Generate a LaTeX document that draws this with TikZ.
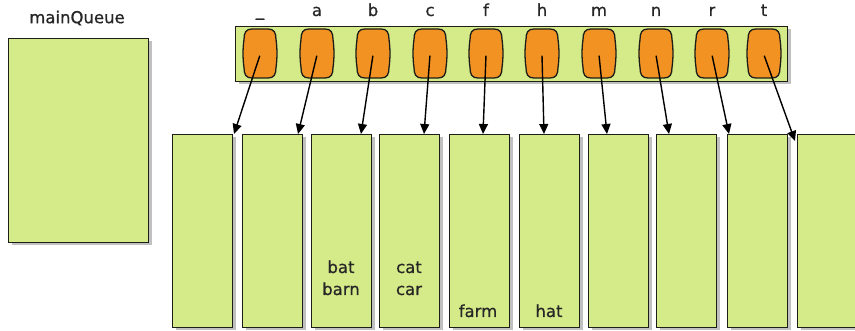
\documentclass[tikz,border=0pt]{standalone}
\usepackage{fontspec}
\setmainfont{DejaVu Sans}[FakeBold=0.6]
\usetikzlibrary{arrows.meta,shadows}
\definecolor{boxgreen}{RGB}{213,234,136}
\definecolor{pillorange}{RGB}{242,146,35}
\definecolor{edge}{RGB}{30,30,25}
\begin{document}
\begin{tikzpicture}[x=1pt,y=-1pt,font=\fontsize{16.5}{22}\selectfont,
  box/.style={draw=edge,line width=1.4pt,fill=boxgreen,anchor=north west,inner sep=0pt,
    drop shadow={shadow xshift=3pt,shadow yshift=-2.5pt,opacity=0.45,fill=black!55}},
  pill/.style={draw=edge,line width=1.3pt,fill=pillorange},
  lbl/.style={text=black!85,inner sep=0pt},
  link/.style={draw=black,line width=1.4pt,-{Triangle[length=10pt,width=9pt]}}]
\useasboundingbox (0,0) rectangle (855,331);
\clip (0,0) rectangle (855,331);

% main queue
\node[lbl] (mql) at (77,18) {mainQueue};
\node[box,minimum width=140pt,minimum height=204pt] (mq) at (8,38) {};

% top bar
\node[box,minimum width=552pt,minimum height=55pt] (bar) at (235,26) {};

% pills
\foreach \cx/\t [count=\i from 0] in {260/\_,317/a,373/b,430/c,486/f,542/h,599/m,656/n,712/r,764/t}{
  \begin{scope}[shift={(\cx,53.5)}]
    \draw[pill] (-8,-24.5) -- (8,-24.5)
      .. controls (14,-24.5) and (16,-21) .. (16,-14)
      .. controls (17.3,-5) and (17.3,5) .. (16,14)
      .. controls (16,21) and (14,24.5) .. (8,24.5)
      -- (-8,24.5)
      .. controls (-14,24.5) and (-16,21) .. (-16,14)
      .. controls (-17.3,5) and (-17.3,-5) .. (-16,-14)
      .. controls (-16,-21) and (-14,-24.5) .. (-8,-24.5) -- cycle;
  \end{scope}
  \node[inner sep=0pt] (p\i) at (\cx,55) {};
  \node[lbl,anchor=base] (k\i) at (\cx,16) {\t};
}

% buckets
\foreach \bx [count=\i from 0] in {172,242,311,379,449,519,588,656,727,797}{
  \node[box,minimum width=60pt,minimum height=193pt] (b\i) at (\bx,134) {};
}

% bucket contents
\node[lbl,align=center,anchor=base] (w2) at (341,295) {bat\\barn};
\node[lbl,align=center,anchor=base] (w3) at (409,295) {cat\\car};
\node[lbl,anchor=base] (w4) at (478,317) {farm};
\node[lbl,anchor=base] (w5) at (549,317) {hat};

% arrow targets
\foreach \ex/\ey [count=\i from 0] in {234/134,298/134,361/134,424/134,483/134,544/134,607/134,669/134,729/134,795/141}{
  \coordinate (e\i) at (\ex,\ey);
}
\foreach \i in {0,...,9}{
  \draw[link] (p\i) -- (e\i);
}
\end{tikzpicture}
\end{document}
